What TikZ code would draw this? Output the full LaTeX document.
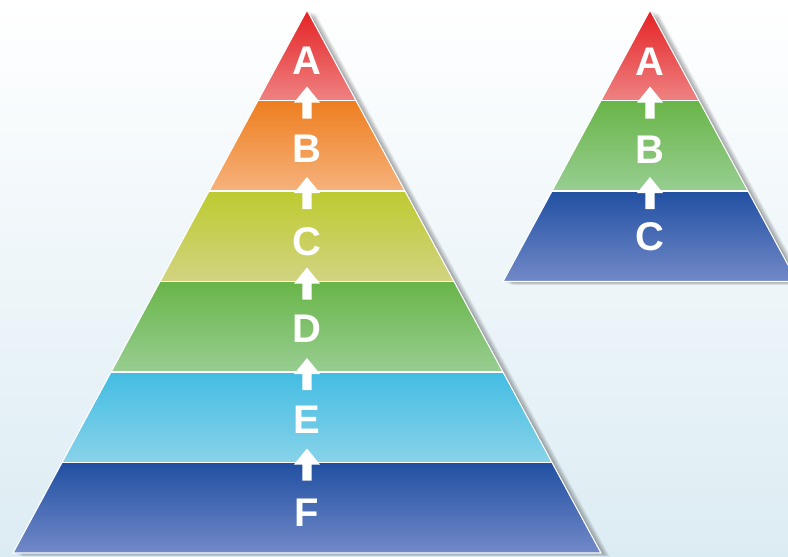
\documentclass[tikz,border=0pt]{standalone}
\usepackage{fontspec}
\setmainfont{Liberation Sans}
\usetikzlibrary{calc}
\definecolor{bgB}{HTML}{DCECF3}
\definecolor{redT}{HTML}{E42224}\definecolor{redB}{HTML}{EF8282}
\definecolor{oraT}{HTML}{EE7E1F}\definecolor{oraB}{HTML}{F6B27C}
\definecolor{ylwT}{HTML}{BDCB2F}\definecolor{ylwB}{HTML}{D2D382}
\definecolor{grnT}{HTML}{69B548}\definecolor{grnB}{HTML}{98CE92}
\definecolor{cyaT}{HTML}{43BCE3}\definecolor{cyaB}{HTML}{88D3E9}
\definecolor{bluT}{HTML}{2150A2}\definecolor{bluB}{HTML}{7289C8}
\newcommand\pyrlayer[5]{% cx, y1, y2, top colour, bottom colour
  \pgfmathsetmacro\hwa{(#2-10)*0.541436}%
  \pgfmathsetmacro\hwb{(#3-10)*0.541436}%
  \shade[top color=#4, middle color=#4, bottom color=#5]
    ({#1-\hwa},#2) -- ({#1+\hwa},#2) -- ({#1+\hwb},#3) -- ({#1-\hwb},#3) -- cycle;
}
\newcommand\uparr[2]{% cx, boundary y
  \fill[white] (#1,#2-14) -- (#1+13,#2+2) -- (#1+4.6,#2+2) -- (#1+4.6,#2+18)
    -- (#1-4.6,#2+18) -- (#1-4.6,#2+2) -- (#1-13,#2+2) -- cycle;
}
\newcommand\pyrshadow[3]{% cx, base y, half width
  \foreach \i in {1,...,9}{
    \fill[black, opacity=0.045] ($(#1,10)+(\i*1.0,\i*0.4)$) -- ($(#1+#3,#2)+(\i*1.0,\i*0.4)$)
      -- ($(#1-#3,#2)+(\i*1.0,\i*0.4)$) -- cycle;
  }
}
\begin{document}
\begin{tikzpicture}[x=1pt,y=-1pt,
  lbl/.style={text=white, font=\bfseries\fontsize{40}{40}\selectfont, inner sep=0pt},
  sep/.style={white, line width=1.3pt},
  rim/.style={white, line width=1.1pt, line join=miter}]
\useasboundingbox (0,0) rectangle (788,557);
\clip (0,0) rectangle (788,557);
\shade[top color=white, middle color=white!60!bgB, bottom color=bgB] (0,0) rectangle (788,557);

% big pyramid
\pyrshadow{307}{553}{294}
\pyrlayer{307}{10}{100.5}{redT}{redB}
\pyrlayer{307}{100.5}{191}{oraT}{oraB}
\pyrlayer{307}{191}{281.5}{ylwT}{ylwB}
\pyrlayer{307}{281.5}{372}{grnT}{grnB}
\pyrlayer{307}{372}{462.5}{cyaT}{cyaB}
\pyrlayer{307}{462.5}{553}{bluT}{bluB}
\draw[sep] (258,100.5) -- (356,100.5);
\draw[sep] (209,191) -- (405,191);
\draw[sep] (160,281.5) -- (454,281.5);
\draw[sep] (111,372) -- (503,372);
\draw[sep] (62,462.5) -- (552,462.5);
\draw[rim] (307,10) -- (601,553) -- (13,553) -- cycle;
\uparr{307}{100.5}
\uparr{307}{191}
\uparr{307}{281.5}
\uparr{307}{372}
\uparr{307}{462.5}
\node[lbl] (bA) at (307,61) {A};
\node[lbl] (bB) at (307,149) {B};
\node[lbl] (bC) at (307,242) {C};
\node[lbl] (bD) at (307,329) {D};
\node[lbl] (bE) at (307,420) {E};
\node[lbl] (bF) at (307,513) {F};

% small pyramid
\pyrshadow{650}{281.5}{147}
\pyrlayer{650}{10}{100.5}{redT}{redB}
\pyrlayer{650}{100.5}{191}{grnT}{grnB}
\pyrlayer{650}{191}{281.5}{bluT}{bluB}
\draw[sep] (601,100.5) -- (699,100.5);
\draw[sep] (552,191) -- (748,191);
\draw[rim] (650,10) -- (797,281.5) -- (503,281.5) -- cycle;
\uparr{650}{100.5}
\uparr{650}{191}
\node[lbl] (sA) at (650,62) {A};
\node[lbl] (sB) at (650,150) {B};
\node[lbl] (sC) at (650,237) {C};
\end{tikzpicture}
\end{document}
